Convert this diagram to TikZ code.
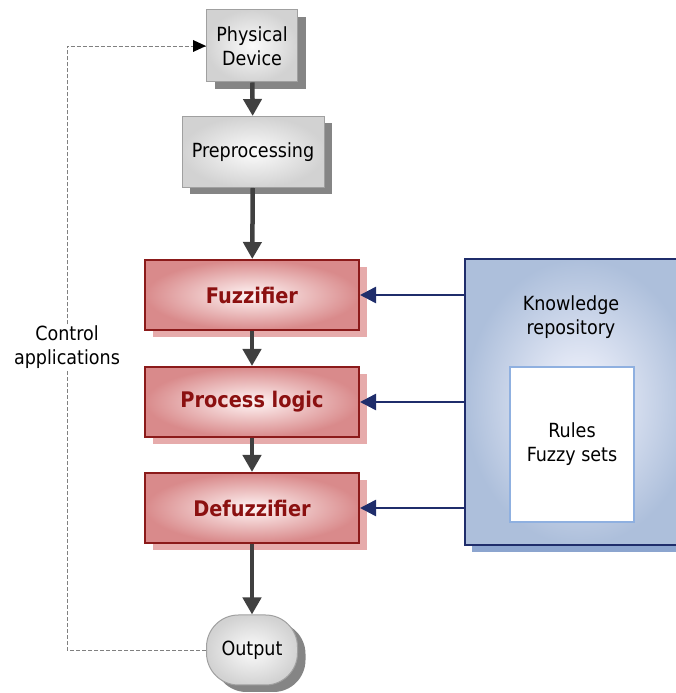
\documentclass[tikz,border=0pt]{standalone}
\usepackage{fontspec}
\setmainfont{DejaVu Sans Condensed}
\usetikzlibrary{arrows.meta,shadows}

\definecolor{boxline}{HTML}{A0A0A0}
\definecolor{boxshade}{HTML}{858585}
\definecolor{fuzzline}{HTML}{8B1A1A}
\definecolor{fuzzfill}{HTML}{D98A8B}
\definecolor{fuzzshade}{HTML}{E6ABAB}
\definecolor{fuzztext}{HTML}{8B1010}
\definecolor{kbline}{HTML}{1F2D6B}
\definecolor{kbfill}{HTML}{ADBFDB}
\definecolor{kbshade}{HTML}{8CA5CF}
\definecolor{rulesline}{HTML}{8FB0E0}
\definecolor{flowgray}{HTML}{404040}

\tikzset{
  txt/.style={font=\fontsize{19.5}{24}\selectfont, align=center},
  graybox/.style={txt, draw=boxline, line width=1pt, inner sep=0pt,
    inner color=gray!3, outer color=gray!35,
    drop shadow={shadow xshift=8pt, shadow yshift=-7pt, fill=boxshade, opacity=1}},
  fuzzbox/.style={txt, draw=fuzzline, line width=2pt, inner sep=0pt,
    minimum width=214pt, minimum height=70pt,
    inner color=red!4, outer color=fuzzfill, text=fuzztext,
    font=\fontsize{21.5}{24}\selectfont\bfseries,
    drop shadow={shadow xshift=7.5pt, shadow yshift=-7.5pt, fill=fuzzshade, opacity=1}},
  flow/.style={draw=flowgray, line width=4.5pt, -{Triangle[length=17pt,width=18pt]}},
  feed/.style={draw=kbline, line width=2.5pt, -{Triangle[length=16pt,width=16pt]}},
  loopline/.style={draw=gray, line width=0.8pt, dash pattern=on 4pt off 2pt},
}

\begin{document}
\begin{tikzpicture}[x=1pt,y=1pt]
\useasboundingbox (0,0) rectangle (675,693);

% main chain
\node[graybox, minimum width=91pt, minimum height=72pt] (device) at (252,647) {Physical\\Device};
\node[graybox, minimum width=142pt, minimum height=71pt] (prep) at (253,541) {Preprocessing};
\node[fuzzbox] (fuzz) at (252,398) {Fuzzifier};
\node[fuzzbox] (logic) at (252,291) {Process logic};
\node[fuzzbox] (defuzz) at (252,185) {Defuzzifier};
\node[graybox, rounded corners=32pt, minimum width=91pt, minimum height=70pt] (out) at (252,43) {Output};

% knowledge repository
\node[draw=kbline, line width=2.5pt, inner color=blue!3!white, outer color=kbfill,
  minimum width=230pt, minimum height=286pt,
  drop shadow={shadow xshift=7pt, shadow yshift=-7pt, fill=kbshade, opacity=1}] (kb) at (580,291) {};
\node[txt] (kblabel) at (571,376) {Knowledge\\repository};
\node[txt, draw=rulesline, line width=2pt, fill=white, minimum width=124pt, minimum height=155pt] (rules) at (572,248.5) {Rules\\Fuzzy sets};

\node[txt, fill=white, inner sep=1pt] (ctrl) at (67,346) {Control\\applications};

\draw[flow] (device) -- (prep);
\draw[flow] (prep) -- (fuzz);
\draw[flow] (fuzz) -- (logic);
\draw[flow] (logic) -- (defuzz);
\draw[flow] (defuzz) -- (out);

\draw[feed] (kb.west |- fuzz) -- (fuzz.east);
\draw[feed] (kb.west |- logic) -- (logic.east);
\draw[feed] (kb.west |- defuzz) -- (defuzz.east);

% control loop
\draw[loopline] (out.west) -| (ctrl.south);
\draw[loopline] (ctrl.north) |- (device.west);
\draw[draw=none, fill=black] (device.west) -- ++(-13,6) -- ++(0,-12) -- cycle;
\end{tikzpicture}
\end{document}
